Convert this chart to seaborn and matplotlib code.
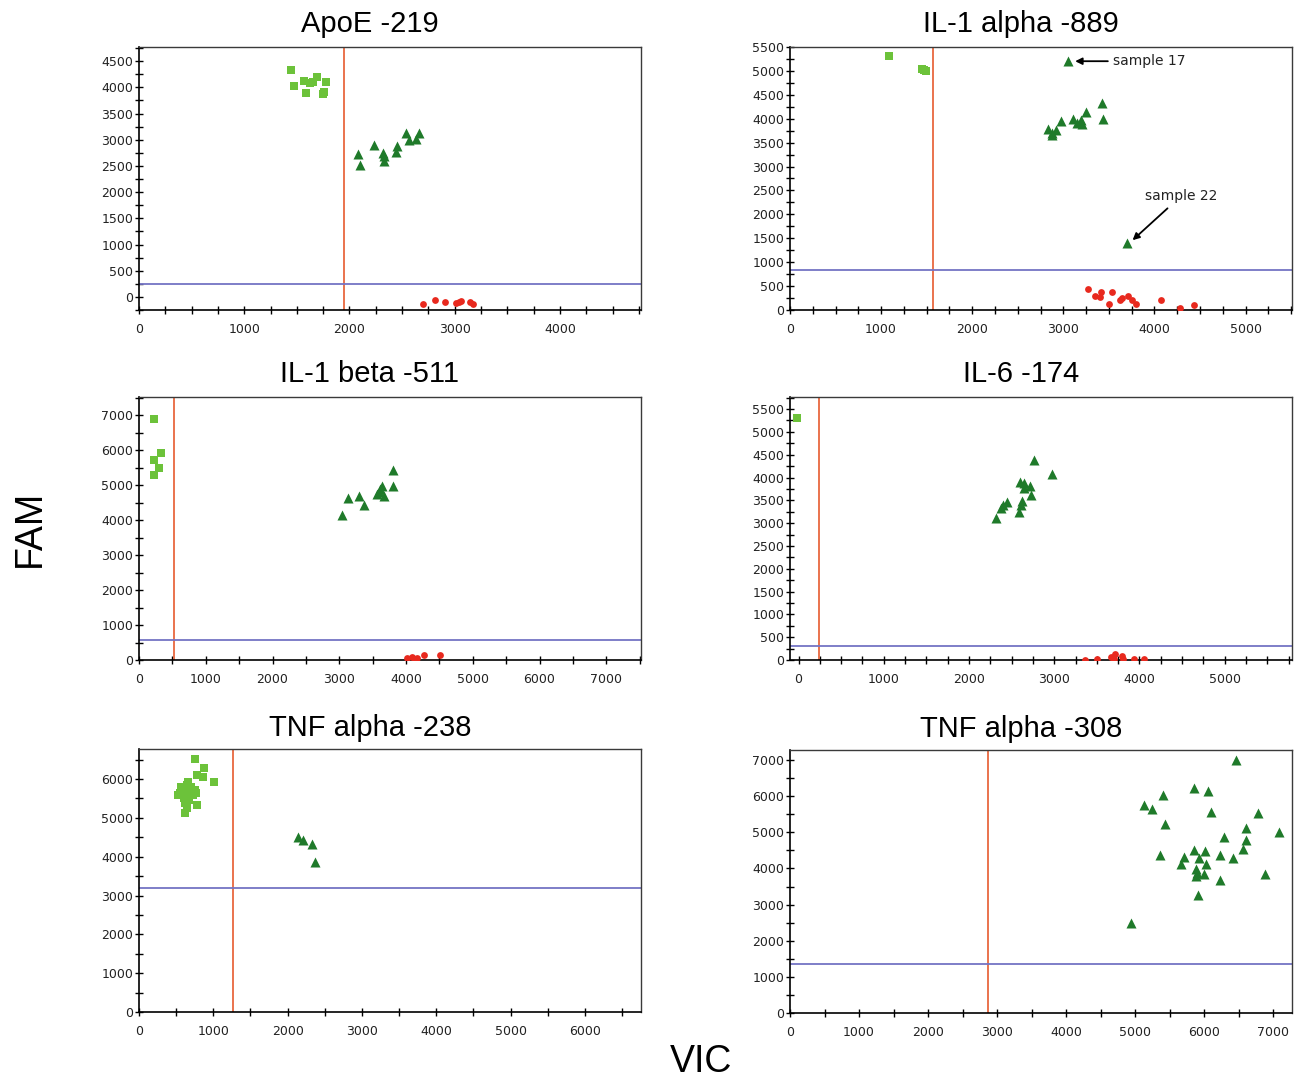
import numpy as np
import pandas as pd
import matplotlib
matplotlib.use("Agg")
import matplotlib.pyplot as plt
from matplotlib.ticker import MultipleLocator
import seaborn as sns

# ---------------------------------------------------------------------------
# Allelic discrimination data (VIC on x, FAM on y), one set per SNP assay.
# hom1 = FAM homozygotes, het = heterozygotes, hom2 = VIC homozygotes
# ---------------------------------------------------------------------------
apoe_hom1_vic = [1443, 1476, 1568, 1588, 1628, 1689, 1757, 1774, 1750, 1650]
apoe_hom1_fam = [4334, 4029, 4118, 3890, 4086, 4188, 3902, 4099, 3880, 4110]
apoe_het_vic = [2084, 2101, 2236, 2324, 2331, 2318, 2439, 2453, 2537, 2561, 2628, 2662]
apoe_het_fam = [2728, 2525, 2900, 2684, 2602, 2741, 2760, 2880, 3134, 2989, 3020, 3134]
apoe_hom2_vic = [2703, 2811, 2905, 3014, 3057, 3142, 3176, 3041]
apoe_hom2_fam = [-127, -57, -102, -121, -76, -102, -127, -102]

il1a_hom1_vic = [1082, 1449, 1492, 1470]
il1a_hom1_fam = [5315, 5035, 5007, 5020]
il1a_het_vic = [3047, 2836, 2871, 2922, 2973, 3105, 3152, 3191, 3203, 3254, 3426, 3437, 2880, 3703]
il1a_het_fam = [5203, 3783, 3664, 3755, 3944, 3993, 3909, 3979, 3888, 4133, 4329, 3993, 3700, 1392]
il1a_hom2_vic = [3270, 3348, 3410, 3402, 3504, 3531, 3621, 3645, 3715, 3754, 3793, 4074, 4285, 4434]
il1a_hom2_fam = [448, 301, 378, 273, 133, 378, 217, 252, 287, 217, 133, 217, 42, 98]

il1b_hom1_vic = [230, 230, 337, 300, 230]
il1b_hom1_fam = [6892, 5720, 5920, 5472, 5281]
il1b_het_vic = [3042, 3128, 3299, 3364, 3562, 3615, 3642, 3600, 3664, 3808, 3808]
il1b_het_fam = [4156, 4633, 4681, 4442, 4747, 4900, 4967, 4805, 4700, 5415, 4976]
il1b_hom2_vic = [4017, 4087, 4135, 4167, 4269, 4515]
il1b_hom2_fam = [57, 76, 29, 57, 133, 133]

il6_hom1_vic = [-21]
il6_hom1_fam = [5310]
il6_het_vic = [2313, 2375, 2400, 2446, 2591, 2608, 2624, 2604, 2645, 2649, 2720, 2733, 2762, 2969]
il6_het_fam = [3116, 3321, 3394, 3467, 3248, 3394, 3482, 3906, 3870, 3760, 3811, 3613, 4389, 4067]
il6_hom2_vic = [3360, 3505, 3663, 3713, 3696, 3796, 3812, 3933, 4057]
il6_hom2_fam = [7, 29, 66, 139, 29, 80, 15, 15, 29]

tnf238_hom1_vic = [760, 875, 779, 856, 1010, 663, 769, 784, 625, 649, 553, 587, 625, 683,
                   721, 601, 673, 750, 567, 649, 615, 697, 529]
tnf238_hom1_fam = [6512, 6290, 6118, 6041, 5930, 5930, 5630, 5330, 5116, 5245, 5630, 5758,
                   5673, 5716, 5586, 5500, 5456, 5716, 5800, 5844, 5372, 5800, 5600]
tnf238_het_vic = [2139, 2202, 2332, 2365]
tnf238_het_fam = [4516, 4430, 4327, 3873]
tnf238_hom2_vic = []
tnf238_hom2_fam = []

tnf308_hom1_vic = []
tnf308_hom1_fam = []
tnf308_het_vic = [6457, 5847, 6059, 5398, 5129, 5243, 6095, 6782, 5424, 6606, 7082, 6286,
                  6606, 5847, 6007, 6565, 5357, 5708, 6224, 6410, 5929, 5656, 6028, 5878,
                  5888, 5883, 5997, 6234, 6885, 5904, 4933]
tnf308_het_fam = [7000, 6218, 6145, 6035, 5759, 5640, 5575, 5538, 5225, 5115, 5005, 4867,
                  4775, 4499, 4471, 4526, 4379, 4315, 4379, 4287, 4278, 4131, 4131, 3993,
                  3882, 3790, 3845, 3671, 3845, 3257, 2502]
tnf308_hom2_vic = []
tnf308_hom2_fam = []

titles = ["ApoE -219", "IL-1 alpha -889", "IL-1 beta -511",
          "IL-6 -174", "TNF alpha -238", "TNF alpha -308"]
vic_cutoffs = [1950, 1570, 520, 237, 1260, 2867]
fam_cutoffs = [247, 832, 581, 307, 3196, 1343]

# ---------------------------------------------------------------------------
sns.set_style("white")
plt.rcParams["font.family"] = ["DejaVu Sans"]

W, H = 1297, 1080
fig = plt.figure(figsize=(W / 100, H / 100), dpi=100)

COL_HOM1 = "#6cc23a"
COL_HET = "#1f7a2a"
COL_HOM2 = "#e8291e"
COL_VLINE = "#e8683f"
COL_HLINE = "#7474c4"

# axes boxes in pixels: left, top, right, bottom
boxes = [(139, 47, 641, 310), (790, 47, 1292, 310),
         (139, 397, 641, 660), (790, 397, 1292, 660),
         (139, 749, 641, 1012), (790, 750, 1292, 1013)]
title_pads = [11, 11, 11, 11, 9.5, 9.5]
xlims = [(0, 4770), (0, 5510), (0, 7520), (-100, 5790), (0, 6755), (0, 7270)]
ylims = [(-250, 4770), (0, 5500), (0, 7515), (0, 5765), (0, 6775), (0, 7280)]
# (major, minor) spacing for x and y
xsteps = [(1000, 250), (1000, 250), (1000, 500), (1000, 250), (1000, 500), (1000, 500)]
ysteps = [(500, 250), (500, 250), (1000, 500), (500, 250), (1000, 500), (1000, 500)]

groups = [
    (apoe_hom1_vic, apoe_hom1_fam, apoe_het_vic, apoe_het_fam, apoe_hom2_vic, apoe_hom2_fam),
    (il1a_hom1_vic, il1a_hom1_fam, il1a_het_vic, il1a_het_fam, il1a_hom2_vic, il1a_hom2_fam),
    (il1b_hom1_vic, il1b_hom1_fam, il1b_het_vic, il1b_het_fam, il1b_hom2_vic, il1b_hom2_fam),
    (il6_hom1_vic, il6_hom1_fam, il6_het_vic, il6_het_fam, il6_hom2_vic, il6_hom2_fam),
    (tnf238_hom1_vic, tnf238_hom1_fam, tnf238_het_vic, tnf238_het_fam, tnf238_hom2_vic, tnf238_hom2_fam),
    (tnf308_hom1_vic, tnf308_hom1_fam, tnf308_het_vic, tnf308_het_fam, tnf308_hom2_vic, tnf308_hom2_fam),
]

axes = []
for i, (l, t, r, b) in enumerate(boxes):
    ax = fig.add_axes([l / W, 1 - b / H, (r - l) / W, (b - t) / H])
    axes.append(ax)
    h1x, h1y, hx, hy, h2x, h2y = groups[i]

    ax.axvline(vic_cutoffs[i], color=COL_VLINE, lw=1.3, zorder=1)
    ax.axhline(fam_cutoffs[i], color=COL_HLINE, lw=1.3, zorder=1)

    if h1x:
        sns.scatterplot(x=h1x, y=h1y, marker="s", color=COL_HOM1, s=36,
                        linewidth=0, ax=ax, zorder=3)
    if hx:
        sns.scatterplot(x=hx, y=hy, marker="^", color=COL_HET, s=52,
                        linewidth=0, ax=ax, zorder=3)
    if h2x:
        sns.scatterplot(x=h2x, y=h2y, marker="o", color=COL_HOM2, s=24,
                        linewidth=0, ax=ax, zorder=3)

    ax.set_xlim(*xlims[i])
    ax.set_ylim(*ylims[i])
    ax.xaxis.set_major_locator(MultipleLocator(xsteps[i][0]))
    ax.xaxis.set_minor_locator(MultipleLocator(xsteps[i][1]))
    ax.yaxis.set_major_locator(MultipleLocator(ysteps[i][0]))
    ax.yaxis.set_minor_locator(MultipleLocator(ysteps[i][1]))
    ax.set_xticks([v for v in ax.get_xticks() if v >= 0 and v <= xlims[i][1]])
    ax.set_yticks([v for v in ax.get_yticks() if v >= 0 and v <= ylims[i][1]])
    ax.set_xlim(*xlims[i])
    ax.set_ylim(*ylims[i])

    ax.tick_params(axis="both", which="both", direction="inout", length=6,
                   width=1.0, color="black", labelsize=9, labelcolor="#222222",
                   bottom=True, left=True, top=False, right=False)
    ax.tick_params(axis="x", pad=6.5)
    ax.tick_params(axis="y", pad=1)
    for side in ["left", "bottom"]:
        ax.spines[side].set_color("black")
        ax.spines[side].set_linewidth(1.2)
    for side in ["top", "right"]:
        ax.spines[side].set_color("#3a3a3a")
        ax.spines[side].set_linewidth(1.0)
    ax.set_xlabel("")
    ax.set_ylabel("")
    ax.set_title(titles[i], fontsize=21, family="Liberation Sans", color="black",
                 x=0.46, pad=title_pads[i])

# Flagged samples in the IL-1 alpha assay
axes[1].annotate("sample 17", xy=(3130, 5203), xytext=(3540, 5203),
                 fontsize=10, va="center", ha="left", color="#222222",
                 arrowprops=dict(arrowstyle="-|>", color="black", lw=1.3,
                                 mutation_scale=10, shrinkA=1, shrinkB=0))
axes[1].annotate("sample 22", xy=(3760, 1460), xytext=(4290, 2380),
                 fontsize=10, va="center", ha="center", color="#222222",
                 arrowprops=dict(arrowstyle="-|>", color="black", lw=1.3,
                                 mutation_scale=10, shrinkA=2, shrinkB=0))

fig.text(30 / W, 1 - 528 / H, "FAM", rotation=90, fontsize=27, color="black",
         family="Liberation Sans", ha="center", va="center")
fig.text(701 / W, 1 - 1062 / H, "VIC", fontsize=27, color="black",
         family="Liberation Sans", ha="center", va="center")

fig.savefig("out.png", dpi=100)
